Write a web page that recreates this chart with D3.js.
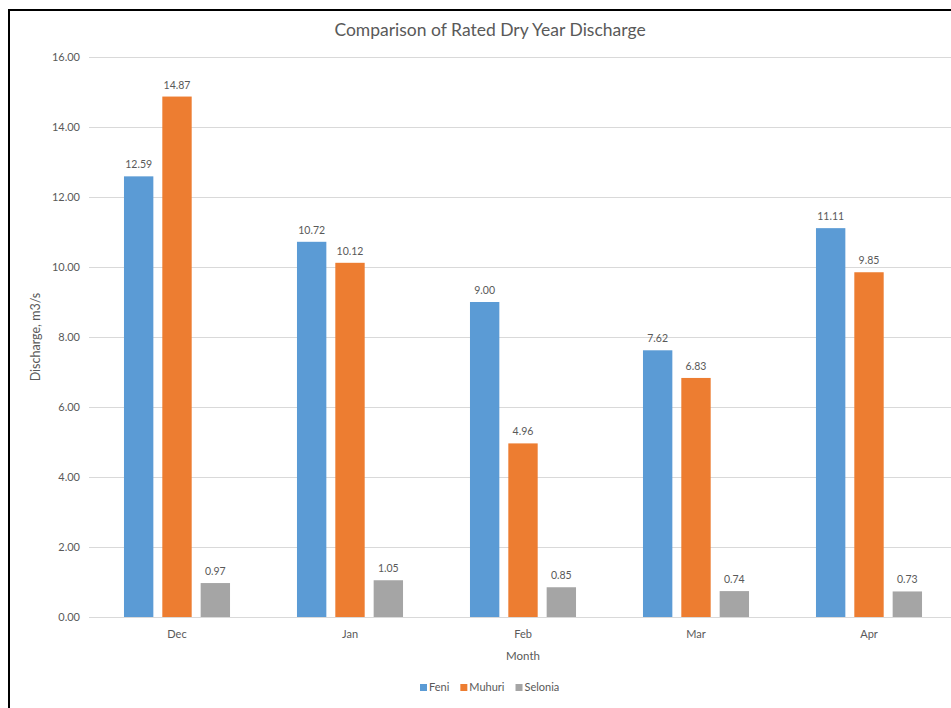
<!DOCTYPE html>
<html>
<head>
<meta charset="utf-8">
<script src="https://cdn.jsdelivr.net/npm/d3@7"></script>
<style>
  html, body { margin: 0; padding: 0; background: #fff; }
  svg { display: block; }
  text { font-family: Lato, "Open Sans", sans-serif; fill: #595959; }
</style>
</head>
<body>
<svg id="chart" width="951" height="708"></svg>
<script>
// Monthly dry-year discharge (m3/s) for the three rivers
const months = ["Dec", "Jan", "Feb", "Mar", "Apr"];
const seriesNames = ["Feni", "Muhuri", "Selonia"];
const feni = [12.59, 10.72, 9.00, 7.62, 11.11];
const muhuri = [14.87, 10.12, 4.96, 6.83, 9.85];
const selonia = [0.97, 1.05, 0.85, 0.74, 0.73];
const yTicks = [0, 2, 4, 6, 8, 10, 12, 14, 16];
const colors = ["#5B9BD5", "#ED7D31", "#A5A5A5"];

const seriesValues = [feni, muhuri, selonia];
const rows = months.map((m, i) => ({
  month: m,
  values: seriesNames.map((s, j) => ({ series: s, value: seriesValues[j][i] }))
}));

const svg = d3.select("#chart");

// Chart frame
svg.append("rect")
  .attr("x", 9).attr("y", 10)
  .attr("width", 1000).attr("height", 760)
  .attr("fill", "#fff")
  .attr("stroke", "#000").attr("stroke-width", 2);

const plot = { left: 90.5, right: 955.5, top: 57, bottom: 617 };

const x0 = d3.scaleBand()
  .domain(months)
  .range([plot.left, plot.right])
  .paddingInner(0.387)
  .paddingOuter(0.1935);

const x1 = d3.scaleBand()
  .domain(seriesNames)
  .range([0, x0.bandwidth()])
  .paddingInner(0.234);

const y = d3.scaleLinear()
  .domain([0, 16])
  .range([plot.bottom, plot.top]);

// Horizontal gridlines and value axis labels
const yAxis = d3.axisLeft(y)
  .tickValues(yTicks)
  .tickFormat(d3.format(".2f"))
  .tickSize(-(plot.right - plot.left + 10))
  .tickPadding(9);

const gy = svg.append("g")
  .attr("transform", `translate(${plot.left - 1.5},0)`)
  .call(yAxis);
gy.select(".domain").remove();
gy.selectAll(".tick line").attr("stroke", "#D9D9D9").attr("stroke-width", 1);
gy.selectAll(".tick text")
  .attr("fill", "#595959")
  .style("font-size", "11px");

// Category axis
const gx = svg.append("g")
  .attr("transform", `translate(0,${plot.bottom})`)
  .call(d3.axisBottom(x0).tickSize(0).tickPadding(13));
gx.select(".domain").remove();
gx.selectAll(".tick text")
  .attr("fill", "#595959")
  .style("font-size", "11px");

// Bars
const groups = svg.append("g").selectAll("g")
  .data(rows)
  .join("g")
  .attr("transform", d => `translate(${x0(d.month)},0)`);

groups.selectAll("rect")
  .data(d => d.values)
  .join("rect")
  .attr("x", d => x1(d.series))
  .attr("y", d => y(d.value))
  .attr("width", x1.bandwidth())
  .attr("height", d => y(0) - y(d.value))
  .attr("fill", (d, i) => colors[i]);

// Value labels above each bar
groups.selectAll("text.val")
  .data(d => d.values)
  .join("text")
  .attr("class", "val")
  .attr("x", d => x1(d.series) + x1.bandwidth() / 2)
  .attr("y", d => y(d.value) - 8)
  .attr("text-anchor", "middle")
  .style("font-size", "10.5px")
  .attr("fill", "#404040")
  .text(d => d3.format(".2f")(d.value));

// Title
svg.append("text")
  .attr("x", 490).attr("y", 36)
  .attr("text-anchor", "middle")
  .style("font-size", "17.5px")
  .text("Comparison of Rated Dry Year Discharge");

// Axis titles
svg.append("text")
  .attr("transform", `translate(40,${(plot.top + plot.bottom) / 2}) rotate(-90)`)
  .attr("text-anchor", "middle")
  .style("font-size", "12.5px")
  .text("Discharge, m3/s");

svg.append("text")
  .attr("x", (plot.left + plot.right) / 2).attr("y", 660)
  .attr("text-anchor", "middle")
  .style("font-size", "11.5px")
  .text("Month");

// Legend
const legend = svg.append("g").attr("transform", "translate(420,691)");
let lx = 0;
seriesNames.forEach((name, i) => {
  const item = legend.append("g").attr("transform", `translate(${lx},0)`);
  item.append("rect")
    .attr("x", 0).attr("y", -7)
    .attr("width", 7).attr("height", 7)
    .attr("fill", colors[i]);
  const t = item.append("text")
    .attr("x", 9).attr("y", 0)
    .style("font-size", "11px")
    .text(name);
  lx += 9 + t.node().getComputedTextLength() + 11;
});
</script>
</body>
</html>
